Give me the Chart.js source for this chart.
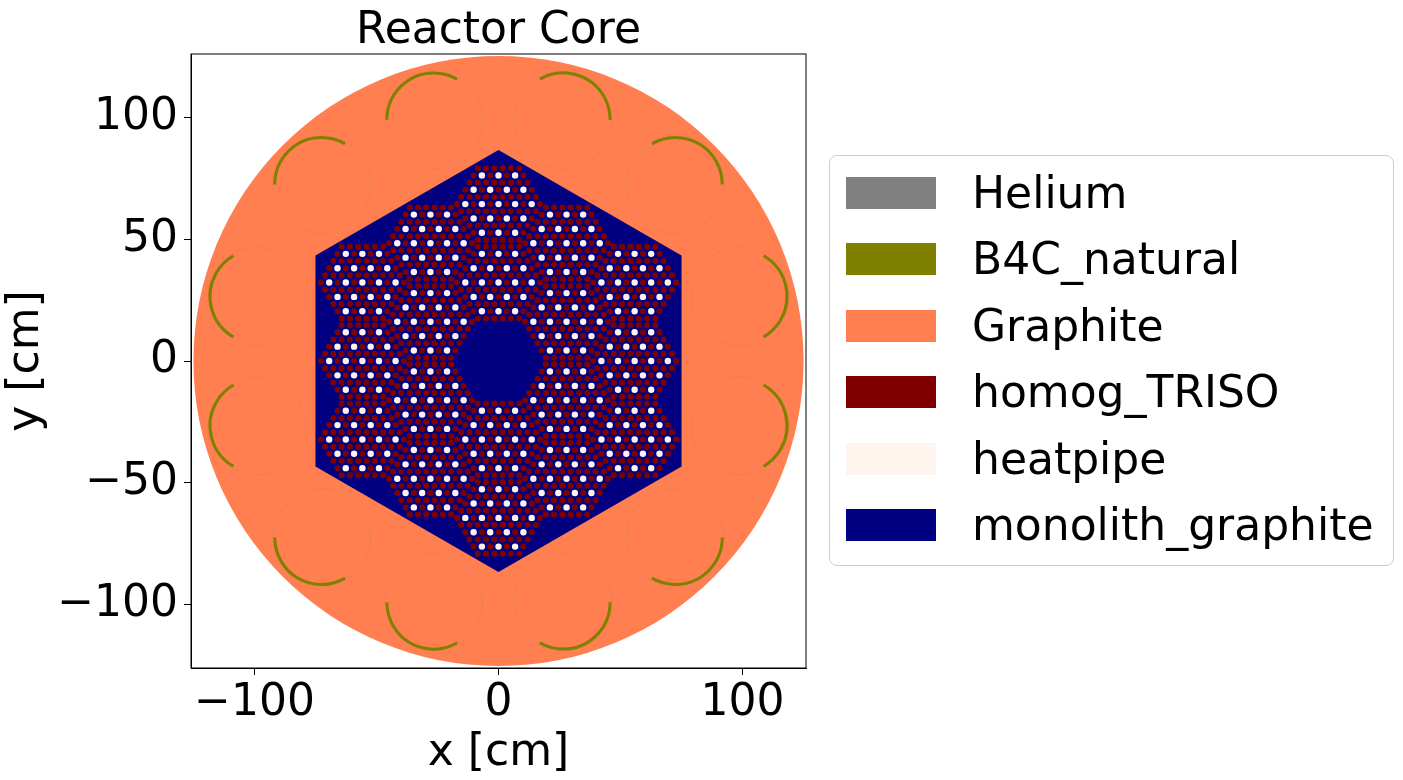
<!DOCTYPE html>
<html><head><meta charset="utf-8">
<script src="https://cdn.jsdelivr.net/npm/chart.js@4.4.1/dist/chart.umd.min.js"></script>
<style>
body{margin:0;background:#fff;font-family:"DejaVu Sans",sans-serif;}
#wrap{position:absolute;left:0;top:0;width:830px;height:780px;}
#title{position:absolute;left:191px;width:615px;top:2px;text-align:center;font-size:44px;}
#legend{position:absolute;left:829px;top:155px;width:565px;height:411px;border:1px solid #ccc;border-radius:8px;box-sizing:border-box;}
.it{position:absolute;left:16px;height:44px;font-size:44px;line-height:44px;}
.sw{position:absolute;left:0;top:6px;width:90px;height:32px;}
.tx{position:absolute;left:126px;top:0;white-space:nowrap;}
</style></head><body>
<div id="wrap"><canvas id="c" width="830" height="780"></canvas></div>
<div id="title">Reactor Core</div>
<div id="legend"></div>
<script>
// materials
const materials = ["Helium","B4C_natural","Graphite","homog_TRISO","heatpipe","monolith_graphite"];
const materialColors = ["#808080","#808000","#ff7f50","#800000","#fff5ee","#000080"];
// geometry parameters (cm)
const coreRadius = 125;
const hexApothem = 75;
const drumRingRadius = 102.5;
const drumRadius = 20;
const drumAngles = [15,45,75,105,135,165,195,225,255,285,315,345];
const absorberArcCenters = [0,60,60,120,120,180,180,240,240,300,300,0];
const absorberSpan = 120;
const pinPitch = 3.4;
const assemblyPitch = 32.2;
const assemblySide = 6;
// assembly ring positions: [distance in assembly pitches, angle deg]
const assemblyPos = [
 [1,30],[1,90],[1,150],[1,210],[1,270],[1,330],
 [2,30],[2,90],[2,150],[2,210],[2,270],[2,330],
 [Math.sqrt(3),0],[Math.sqrt(3),60],[Math.sqrt(3),120],[Math.sqrt(3),180],[Math.sqrt(3),240],[Math.sqrt(3),300]];
const xTicks=[-100,0,100], yTicks=[-100,-50,0,50,100];

const fuel=[], hp=[];
assemblyPos.forEach(([d,a])=>{
  const cx=d*assemblyPitch*Math.cos(a*Math.PI/180), cy=d*assemblyPitch*Math.sin(a*Math.PI/180);
  const n=assemblySide-1;
  for(let k=-n;k<=n;k++){
    const cnt=2*n+1-Math.abs(k);
    for(let i=0;i<cnt;i++){
      const x=cx+(i-(cnt-1)/2)*pinPitch, y=cy+k*pinPitch*Math.sqrt(3)/2;
      if(k%2===0 && i%2===1) hp.push({x,y}); else fuel.push({x,y});
    }
  }
});

const lg=document.getElementById('legend');
materials.forEach((m,i)=>{
  const d=document.createElement('div');d.className='it';d.style.top=(15+i*66.4)+'px';
  d.innerHTML='<div class="sw" style="background:'+materialColors[i]+'"></div><div class="tx">'+m+'</div>';
  lg.appendChild(d);
});

const geom={id:'geom',beforeDatasetsDraw(ch){
  const c=ch.ctx,X=ch.scales.x,Y=ch.scales.y;
  const px=v=>X.getPixelForValue(v),py=v=>Y.getPixelForValue(v);
  const s=(X.getPixelForValue(1)-X.getPixelForValue(0));
  c.save();
  c.beginPath();c.rect(ch.chartArea.left,ch.chartArea.top,ch.chartArea.width,ch.chartArea.height);c.clip();
  c.fillStyle=materialColors[2];c.beginPath();c.arc(px(0),py(0),coreRadius*s,0,2*Math.PI);c.fill();
  drumAngles.forEach((a,i)=>{
    const r=a*Math.PI/180,dx=drumRingRadius*Math.cos(r),dy=drumRingRadius*Math.sin(r);
    c.strokeStyle='rgba(160,130,110,0.55)';c.lineWidth=0.8;c.setLineDash([2,2]);
    c.beginPath();c.arc(px(dx),py(dy),drumRadius*s,0,2*Math.PI);c.stroke();c.setLineDash([]);
    const ac=absorberArcCenters[i]*Math.PI/180,h=absorberSpan/2*Math.PI/180;
    c.strokeStyle=materialColors[1];c.lineWidth=3;
    c.beginPath();c.arc(px(dx),py(dy),(drumRadius-0.8)*s,-(ac+h),-(ac-h));c.stroke();
  });
  const R=hexApothem/Math.cos(Math.PI/6);
  c.fillStyle=materialColors[5];c.beginPath();
  for(let k=0;k<6;k++){const a=(90+60*k)*Math.PI/180;const x=px(R*Math.cos(a)),y=py(R*Math.sin(a));k?c.lineTo(x,y):c.moveTo(x,y);}
  c.closePath();c.fill();
  c.restore();
}};
const frame={id:'frame',afterDraw(ch){const a=ch.chartArea,c=ch.ctx;c.save();c.strokeStyle='#000';c.lineWidth=1;c.strokeRect(a.left,a.top,a.width,a.height);c.restore();}};
const fmt=v=>(v<0?'\u2212'+(-v):''+v);
new Chart(document.getElementById('c'),{
  type:'scatter',
  data:{datasets:[
    {data:fuel,pointRadius:3,pointBackgroundColor:materialColors[3],pointBorderWidth:0},
    {data:hp,pointRadius:3.2,pointBackgroundColor:materialColors[4],pointBorderWidth:0}
  ]},
  options:{responsive:false,animation:false,events:[],
    layout:{padding:{top:54,right:24,left:0,bottom:0}},
    plugins:{legend:{display:false},tooltip:{enabled:false}},
    scales:{
      x:{type:'linear',min:-126,max:126,afterFit(s){s.height=112;},
        afterBuildTicks(s){s.ticks=xTicks.map(v=>({value:v}));},
        ticks:{font:{size:44,family:'DejaVu Sans'},color:'#000',callback:fmt,maxRotation:0,padding:2},
        grid:{drawOnChartArea:false,tickLength:7,color:'#000'},border:{color:'#000'},
        title:{display:true,text:'x [cm]',font:{size:44,family:'DejaVu Sans'},color:'#000',padding:0}},
      y:{type:'linear',min:-126,max:126,afterFit(s){s.width=191;},
        afterBuildTicks(s){s.ticks=yTicks.map(v=>({value:v}));},
        ticks:{font:{size:44,family:'DejaVu Sans'},color:'#000',callback:fmt,padding:6},
        grid:{drawOnChartArea:false,tickLength:7,color:'#000'},border:{color:'#000'},
        title:{display:true,text:'y [cm]',font:{size:44,family:'DejaVu Sans'},color:'#000',padding:0}}
    }},
  plugins:[geom,frame]
});
</script></body></html>
